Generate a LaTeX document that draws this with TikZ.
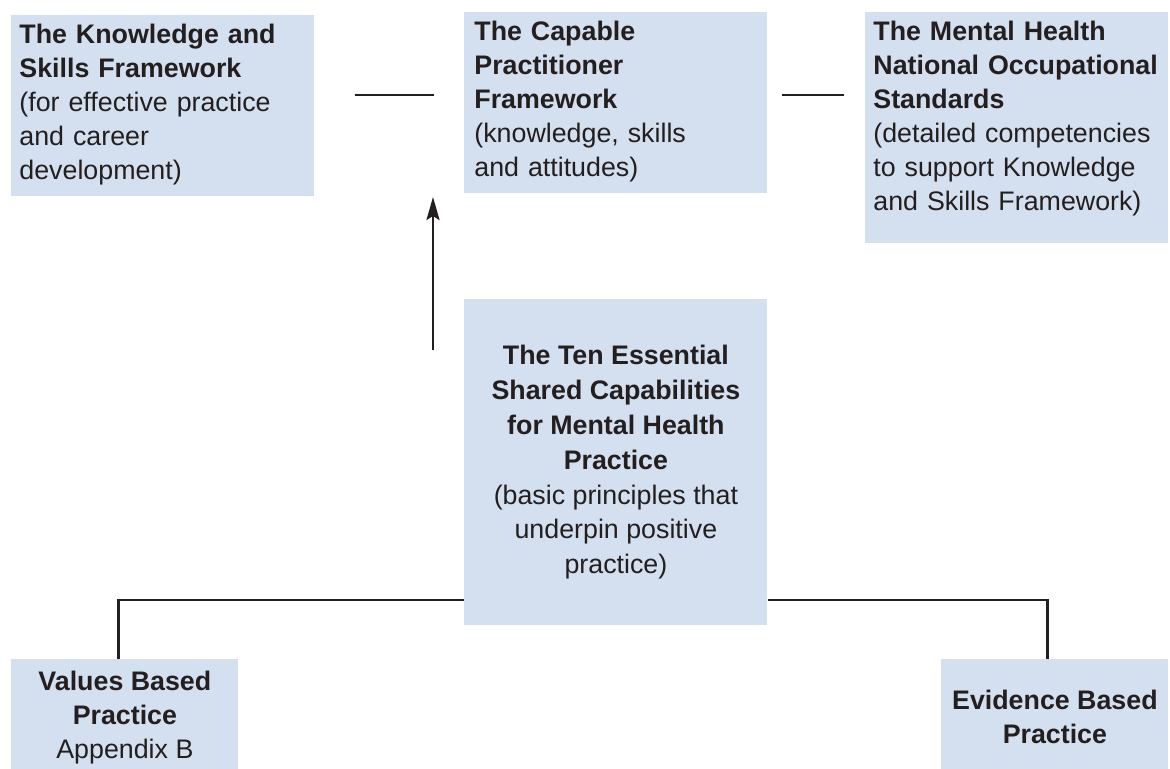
\documentclass[tikz,border=0pt]{standalone}
\usepackage{fontspec}
\setmainfont{Liberation Sans}
\usetikzlibrary{positioning}
\usetikzlibrary{arrows.meta}

\definecolor{panelblue}{RGB}{212,223,240}
\definecolor{inkgrey}{RGB}{35,31,32}

\tikzset{
  panel/.style={fill=panelblue,draw=none,inner sep=0pt,anchor=north west},
  paneltext/.style={anchor=north west,inner xsep=4pt,inner ysep=4.5pt,
    text width=143.5pt,align=left,text=inkgrey},
  centretext/.style={panel,align=center,text=inkgrey},
  link/.style={draw=inkgrey,line width=1.2pt}
}

\begin{document}
\begin{tikzpicture}[x=0.5pt,y=-0.5pt,font=\fontsize{13.4}{17}\selectfont]
    \useasboundingbox (0,0) rectangle (1170,769);
    % top row
    \node[panel,minimum width=151.5pt,minimum height=90.5pt] (ksf) at (11,15) {};
    \node[paneltext] (ksf-t) at (ksf.north west) {\textbf{The Knowledge and}\\
      \textbf{Skills Framework}\\(for effective practice\\and career\\development)};
    \node[panel,minimum width=151.5pt,minimum height=90.5pt] (cpf) at (464,12) {};
    \node[paneltext,inner xsep=5pt] (cpf-t) at (cpf.north west) {\textbf{The Capable}\\
      \textbf{Practitioner}\\\textbf{Framework}\\(knowledge, skills\\and attitudes)};
    \node[panel,minimum width=151.5pt,minimum height=115.5pt] (nos) at (865,12) {};
    \node[paneltext] (nos-t) at (nos.north west) {\textbf{The Mental Health}\\
      \textbf{National Occupational}\\\textbf{Standards}\\(detailed competencies\\
      to support Knowledge\\and Skills Framework)};
    \coordinate (ksf-stub1) at (355,95);
    \coordinate (ksf-stub2) at (434,95);
    \coordinate (nos-stub1) at (782,95);
    \coordinate (nos-stub2) at (844,95);
    \draw[link] (ksf-stub1) -- (ksf-stub2);
    \draw[link] (nos-stub1) -- (nos-stub2);
    % centre
    \node[centretext,minimum width=151.5pt,minimum height=163pt,
      font=\fontsize{13.4}{17.4}\selectfont] (esc) at (464,299)
      {\textbf{The Ten Essential}\\\textbf{Shared Capabilities}\\\textbf{for Mental Health}\\
      \textbf{Practice}\\(basic principles that\\underpin positive\\practice)};
    \coordinate (rise1) at (433,350);
    \coordinate (rise2) at (433,197);
    \draw[link,-{Stealth[length=11.5pt,width=6.5pt,inset=2pt]}] (rise1) -- (rise2);
    % bottom row (boxes run off the lower edge)
    \node[centretext,minimum width=113.5pt,minimum height=58pt] (vbp) at (11,659)
      {\textbf{Values Based}\\\textbf{Practice}\\Appendix B};
    \node[centretext,minimum width=113.5pt,minimum height=58pt] (ebp) at (941,659)
      {\textbf{Evidence Based}\\\textbf{Practice}};
    \draw[link] ([yshift=13pt]esc.south west) -| ([xshift=-3.25pt]vbp.north);
    \draw[link] ([yshift=13pt]esc.south east) -| ([xshift=-3.75pt]ebp.north);
\end{tikzpicture}
\end{document}
